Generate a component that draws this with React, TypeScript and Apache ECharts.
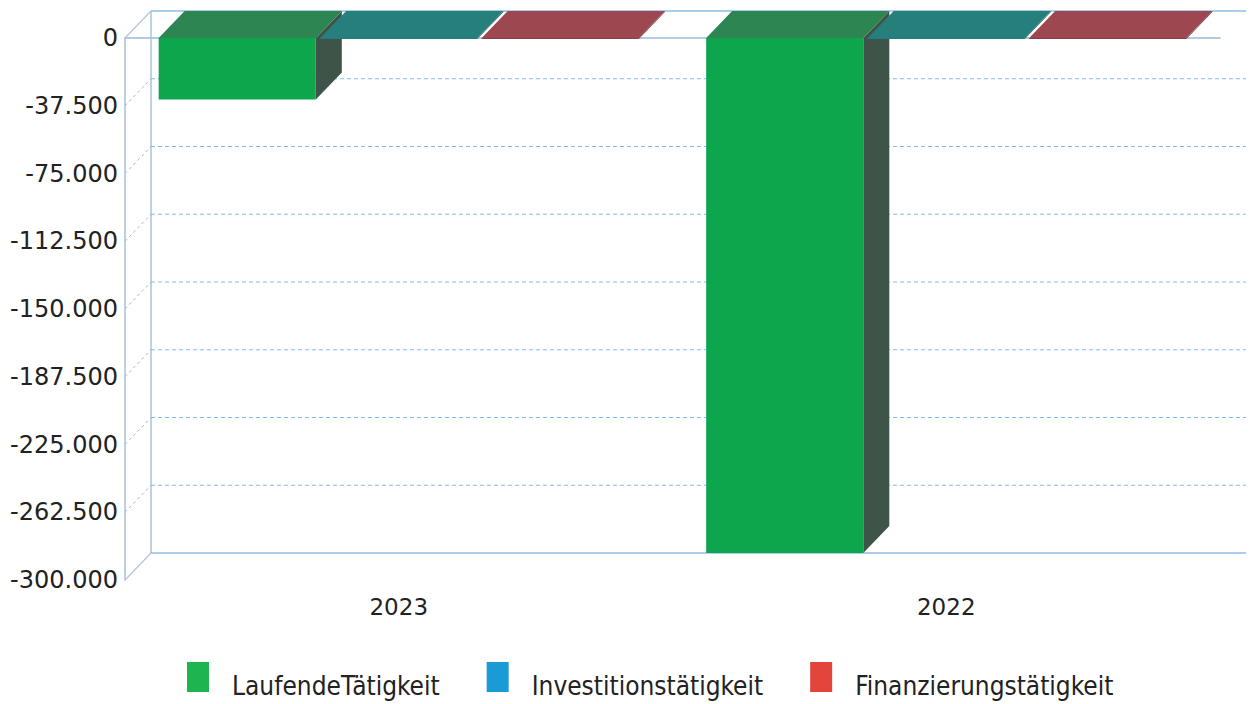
import React, { useEffect, useRef } from "react";
import * as echarts from "echarts";

const categories = ["2023", "2022"];
const seriesNames = ["LaufendeTätigkeit", "Investitionstätigkeit", "Finanzierungstätigkeit"];
const laufende = [-34000, -285000];
const investition = [-500, -500];
const finanzierung = [-500, -500];
const yTicks = [0, -37500, -75000, -112500, -150000, -187500, -225000, -262500, -300000];

const legendColors = ["#1db550", "#1b9bd6", "#e3453b"];
const faceColors = [
  { front: "#0ea64c", top: "#2d8552", side: "#3f5448" },
  { front: "#1d7f86", top: "#267f7b", side: "#2a5558" },
  { front: "#8e3e44", top: "#9d4850", side: "#5e3639" },
];

const DX = 26;
const DY = -27;

const fmt = (v: number) => {
  if (v === 0) return "0";
  const s = String(Math.abs(v)).replace(/\B(?=(\d{3})+(?!\d))/g, ".");
  return (v < 0 ? "-" : "") + s;
};

function barRender(idx: number) {
  return (params: any, api: any) => {
    const cat = api.value(0);
    const val = api.value(1);
    const p0 = api.coord([cat, 0]);
    const p1 = api.coord([cat, val]);
    const band = api.size([1, 0])[0];
    const w = band * 0.287;
    const gap = band * 0.008;
    const groupW = 3 * w + 2 * gap;
    const x0 = p0[0] - groupW / 2 + idx * (w + gap);
    const x1 = x0 + w;
    const yTop = Math.min(p0[1], p1[1]);
    const yBot = Math.max(p0[1], p1[1]);
    const c = faceColors[idx];
    return {
      type: "group",
      children: [
        {
          type: "polygon",
          shape: { points: [[x1, yTop], [x1 + DX, yTop + DY], [x1 + DX, yBot + DY], [x1, yBot]] },
          style: { fill: c.side },
        },
        {
          type: "polygon",
          shape: { points: [[x0, yTop], [x1, yTop], [x1 + DX, yTop + DY], [x0 + DX, yTop + DY]] },
          style: { fill: c.top },
        },
        {
          type: "rect",
          shape: { x: x0, y: yTop, width: w, height: Math.max(yBot - yTop, 0.8) },
          style: { fill: c.front },
        },
      ],
    };
  };
}

function wallRender(params: any, api: any) {
  const cs = params.coordSys;
  const v = api.value(1);
  const y = api.coord([0, v])[1];
  const edge = v === yTicks[0] || v === yTicks[yTicks.length - 1];
  const children: any[] = [
    {
      type: "line",
      shape: { x1: cs.x + DX, y1: y + DY, x2: cs.x + cs.width + DX, y2: y + DY },
      style: edge
        ? { stroke: "#8fbde3", lineWidth: 1.5 }
        : { stroke: "#84bbec", lineWidth: 1.2, lineDash: [4, 3] },
    },
    {
      type: "line",
      shape: { x1: cs.x, y1: y, x2: cs.x + DX, y2: y + DY },
      style: edge
        ? { stroke: "#b4c4d8", lineWidth: 1.2 }
        : { stroke: "#b0b4c8", lineWidth: 1, lineDash: [3, 3] },
    },
  ];
  if (params.dataIndex === 0) {
    children.push({
      type: "line",
      shape: { x1: cs.x + DX, y1: cs.y + DY, x2: cs.x + DX, y2: cs.y + cs.height + DY },
      style: { stroke: "#a8c2dc", lineWidth: 1.5 },
    });
  }
  return { type: "group", children };
}

export default function App() {
  const ref = useRef<HTMLDivElement>(null);
  useEffect(() => {
    if (!ref.current) return;
    const chart = echarts.init(ref.current, undefined, { renderer: "svg" });
    const values = [laufende, investition, finanzierung];
    chart.setOption({
      animation: false,
      backgroundColor: "#ffffff",
      grid: { left: 125, right: 33, top: 38, bottom: 124 },
      legend: {
        data: seriesNames,
        left: 182,
        top: 657,
        itemWidth: 22,
        itemHeight: 48,
        itemGap: 47,
        icon: "path://M0,0h22v30h-22z M0,48h0.01v0.01h-0.01z",
        textStyle: {
          fontSize: 26,
          fontFamily: "'DejaVu Sans Condensed', 'Liberation Sans Narrow', 'DejaVu Sans'",
          color: "#222",
          padding: [0, 0, 0, 18],
        },
      },
      xAxis: {
        type: "category",
        data: categories,
        axisLine: { show: true, lineStyle: { color: "#9bbad6", width: 1.5 } },
        axisTick: { show: false },
        axisLabel: { fontSize: 23, fontFamily: "DejaVu Sans", color: "#222", margin: 15 },
        splitLine: { show: false },
      },
      yAxis: {
        type: "value",
        min: -300000,
        max: 0,
        interval: 37500,
        axisLine: { show: true, lineStyle: { color: "#a8bfd6", width: 1.5 } },
        axisTick: { show: false },
        axisLabel: {
          fontSize: 24,
          fontFamily: "DejaVu Sans",
          color: "#222",
          margin: 7,
          formatter: (v: number) => fmt(v),
        },
        splitLine: { show: false },
      },
      series: [
        {
          type: "custom",
          name: "wall",
          z: 1,
          silent: true,
          renderItem: wallRender,
          encode: { x: 0, y: 1 },
          data: yTicks.map((v) => [0, v]),
        },
        ...seriesNames.map((name, i) => ({
          type: "custom",
          name,
          z: 2,
          itemStyle: { color: legendColors[i] },
          renderItem: barRender(i),
          encode: { x: 0, y: 1 },
          data: categories.map((_, ci) => [ci, values[i][ci]]),
        })),
      ],
    });
    return () => chart.dispose();
  }, []);
  return <div ref={ref} style={{ position: "fixed", left: 0, top: 0, width: 1253, height: 704 }} />;
}
